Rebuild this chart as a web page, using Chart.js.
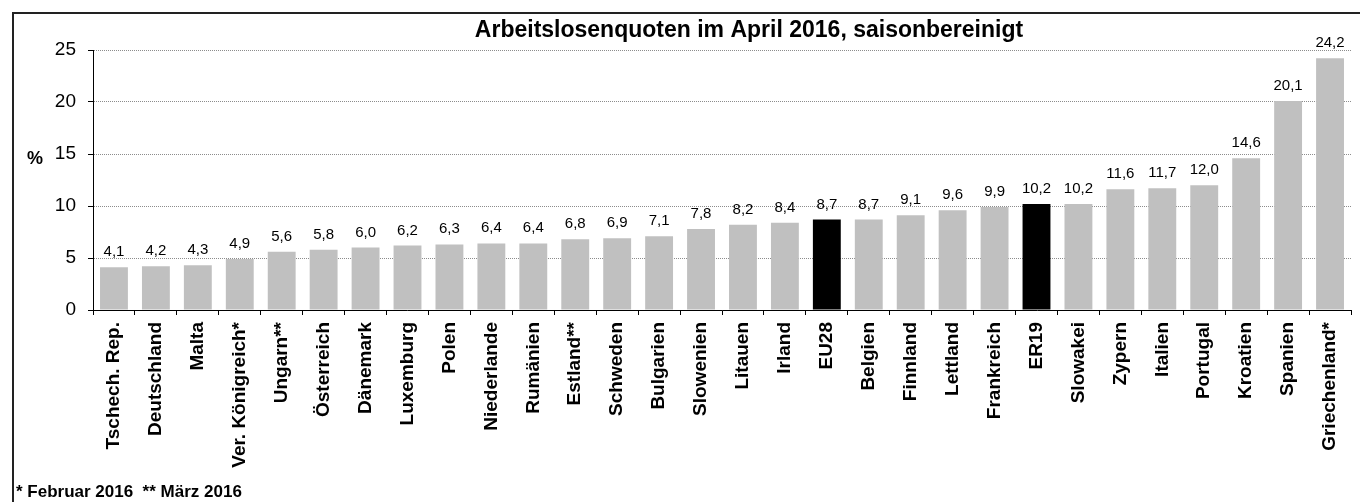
<!DOCTYPE html>
<html>
<head>
<meta charset="utf-8">
<script src="https://cdn.jsdelivr.net/npm/chart.js@4"></script>
<style>
    body { margin: 0; background: #fff; }
    canvas { display: block; }
</style>
</head>
<body>
<canvas id="chart" width="1360" height="502"></canvas>
<script>
const countries = [
    "Tschech. Rep.", "Deutschland", "Malta", "Ver. Königreich*", "Ungarn**",
    "Österreich", "Dänemark", "Luxemburg", "Polen", "Niederlande",
    "Rumänien", "Estland**", "Schweden", "Bulgarien", "Slowenien",
    "Litauen", "Irland", "EU28", "Belgien", "Finnland",
    "Lettland", "Frankreich", "ER19", "Slowakei", "Zypern",
    "Italien", "Portugal", "Kroatien", "Spanien", "Griechenland*",
];
const rates = [
    4.1, 4.2, 4.3, 4.9, 5.6,
    5.8, 6.0, 6.2, 6.3, 6.4,
    6.4, 6.8, 6.9, 7.1, 7.8,
    8.2, 8.4, 8.7, 8.7, 9.1,
    9.6, 9.9, 10.2, 10.2, 11.6,
    11.7, 12.0, 14.6, 20.1, 24.2,
];
const aggregates = ["EU28", "ER19"];
const yTicks = [0, 5, 10, 15, 20, 25];

const chartTitle = "Arbeitslosenquoten im April 2016, saisonbereinigt";
const footnote = "* Februar 2016  ** März 2016";

const FONT = "'Liberation Sans', Arial, sans-serif";

const barColors = countries.map((c) => aggregates.includes(c) ? "#000000" : "#c0c0c0");

const fmt = (v) => v.toFixed(1).replace(".", ",");

const decorations = {
    id: "decorations",
    beforeDraw: (chart) => {
        const { ctx } = chart;
        ctx.save();
        ctx.fillStyle = "#fff";
        ctx.fillRect(0, 0, chart.width, chart.height);
        ctx.strokeStyle = "#222";
        ctx.lineWidth = 2;
        ctx.strokeRect(13, 13, chart.width + 20, chart.height + 20);
        ctx.restore();
    },
    afterDraw: (chart) => {
        const { ctx, chartArea } = chart;
        ctx.save();
        ctx.fillStyle = "#000";
        ctx.textBaseline = "middle";

        ctx.font = "bold 23px " + FONT;
        ctx.textAlign = "center";
        ctx.fillText(chartTitle, 749, 31);

        ctx.font = "bold 18px " + FONT;
        ctx.fillText("%", 35, 159);

        ctx.font = "bold 17px " + FONT;
        ctx.textAlign = "left";
        ctx.fillText(footnote, 16, 492);
        ctx.restore();
    },
    afterDatasetsDraw: (chart) => {
        const { ctx } = chart;
        const meta = chart.getDatasetMeta(0);
        ctx.save();
        ctx.font = "15px " + FONT;
        ctx.fillStyle = "#000";
        ctx.textAlign = "center";
        ctx.textBaseline = "alphabetic";
        meta.data.forEach((bar, i) => {
            ctx.fillText(fmt(rates[i]), bar.x, bar.y - 11);
        });
        ctx.restore();
    },
};

new Chart(document.getElementById("chart"), {
    type: "bar",
    data: {
        labels: countries,
        datasets: [
            {
                data: rates,
                backgroundColor: barColors,
                borderWidth: 0,
                barPercentage: 0.665,
                categoryPercentage: 1,
            },
        ],
    },
    options: {
        responsive: false,
        animation: false,
        layout: {
            padding: { top: 50, right: 9, left: 0, bottom: 0 },
        },
        plugins: {
            legend: { display: false },
            title: { display: false },
            tooltip: { enabled: false },
        },
        scales: {
            x: {
                afterFit: (scale) => {
                    scale.height = 192;
                },
                grid: {
                    display: true,
                    drawOnChartArea: false,
                    drawTicks: true,
                    tickLength: 5,
                    tickColor: "#000",
                    offset: true,
                },
                border: { display: true, color: "#000", width: 1 },
                ticks: {
                    autoSkip: false,
                    minRotation: 90,
                    maxRotation: 90,
                    padding: 7,
                    color: "#000",
                    font: { family: FONT, size: 19, weight: "bold" },
                },
            },
            y: {
                min: 0,
                max: 25,
                afterFit: (scale) => {
                    scale.width = 93;
                },
                afterBuildTicks: (scale) => {
                    scale.ticks = yTicks.map((v) => ({ value: v }));
                },
                grid: {
                    color: "#8c8c8c",
                    lineWidth: 1,
                    drawTicks: true,
                    tickLength: 5,
                    tickColor: "#000",
                },
                border: { display: true, color: "#000", width: 1, dash: [1, 1] },
                ticks: {
                    padding: 12,
                    color: "#000",
                    font: { family: FONT, size: 19 },
                },
            },
        },
    },
    plugins: [decorations],
});
</script>
</body>
</html>
